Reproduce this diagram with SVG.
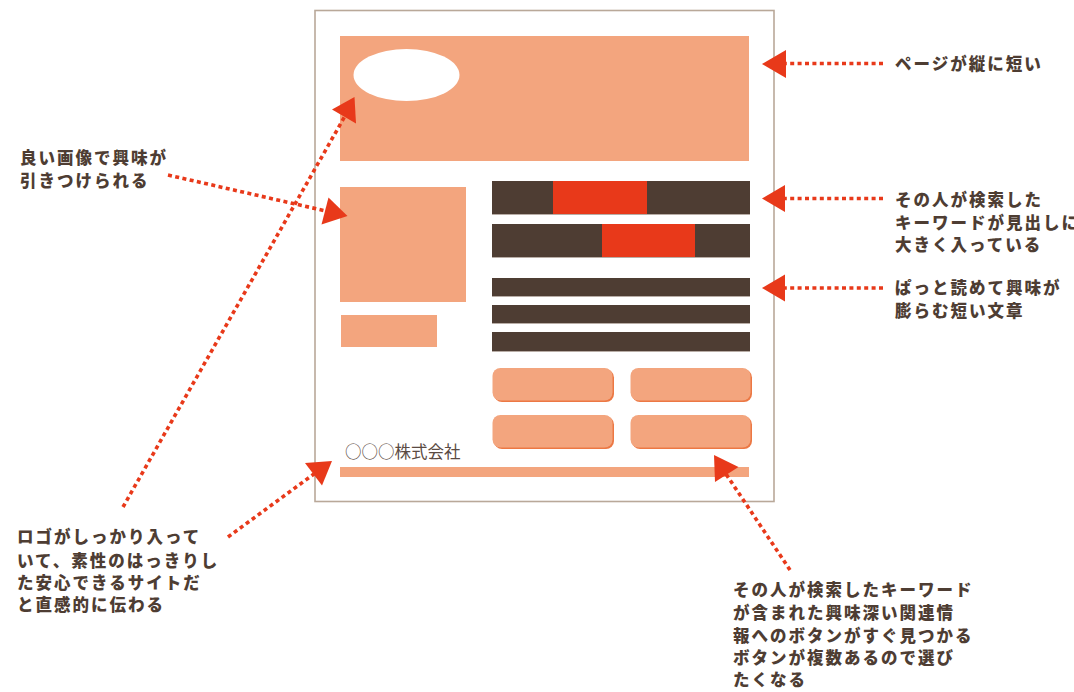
<svg xmlns="http://www.w3.org/2000/svg" width="1074" height="692" viewBox="0 0 1074 692">
<defs>
<style>
.peach{fill:#f3a57e}
.dark{fill:#4e3d33}
.red{fill:#e8391a}
.lbl{font-family:"Noto Sans CJK JP","Noto Sans",sans-serif;font-weight:900;font-size:16.5px;letter-spacing:2px;fill:#4e3d33}
.co{font-family:"Noto Sans CJK JP","Noto Sans",sans-serif;font-weight:400;font-size:16.5px;fill:#5a4a42}
.dot{fill:none;stroke:#e8391a;stroke-width:3.6;stroke-dasharray:4 3.4}
.head{fill:#e8391a}
.btnsh{fill:#ec7844}
.edge{stroke:#b8ada6;stroke-width:1}
</style>
</defs>
<rect width="1074" height="692" fill="#ffffff"/>

<g id="page">
<rect x="315" y="10.5" width="459" height="491" fill="#ffffff" stroke="#b9a899" stroke-width="1.6"/>
</g>

<g id="header">
<rect class="peach" x="340" y="36" width="409" height="125"/>
<ellipse cx="406.5" cy="75" rx="53" ry="26" fill="#ffffff"/>
</g>

<g id="image-block">
<rect class="peach" x="340" y="187" width="126" height="115"/>
<rect class="peach" x="341" y="315" width="96" height="32"/>
</g>

<g id="headlines">
<rect class="dark" x="492" y="181" width="258" height="33"/>
<rect class="red" x="553" y="181" width="94" height="33"/>
<line class="edge" x1="492" y1="214.5" x2="750" y2="214.5"/>
<rect class="dark" x="492" y="224" width="258" height="33"/>
<rect class="red" x="602" y="224" width="93" height="33"/>
<line class="edge" x1="492" y1="257.5" x2="750" y2="257.5"/>
</g>

<g id="text-lines">
<rect class="dark" x="492" y="278" width="258" height="18"/>
<line class="edge" x1="492" y1="296.5" x2="750" y2="296.5"/>
<rect class="dark" x="492" y="305" width="258" height="18"/>
<line class="edge" x1="492" y1="323.5" x2="750" y2="323.5"/>
<rect class="dark" x="492" y="332" width="258" height="19"/>
<line class="edge" x1="492" y1="351.5" x2="750" y2="351.5"/>
</g>

<g id="buttons">
<rect class="btnsh" x="494" y="369.5" width="120" height="32.5" rx="8"/>
<rect class="peach" x="492.5" y="368" width="120" height="32.5" rx="8"/>
<rect class="btnsh" x="632" y="369.5" width="120" height="32.5" rx="8"/>
<rect class="peach" x="630.5" y="368" width="120" height="32.5" rx="8"/>
<rect class="btnsh" x="494" y="416.5" width="120" height="32.5" rx="8"/>
<rect class="peach" x="492.5" y="415" width="120" height="32.5" rx="8"/>
<rect class="btnsh" x="632" y="416.5" width="120" height="32.5" rx="8"/>
<rect class="peach" x="630.5" y="415" width="120" height="32.5" rx="8"/>
</g>

<g id="footer">
<text class="co" x="345" y="457.5">○○○株式会社</text>
<rect class="peach" x="340" y="467" width="409" height="10"/>
</g>

<g id="label-page-short">
<text class="lbl" x="895" y="70">ページが縦に短い</text>
</g>
<g id="label-keyword">
<text class="lbl" x="895" y="206">その人が検索した</text>
<text class="lbl" x="895" y="228.5">キーワードが見出しに</text>
<text class="lbl" x="895" y="251">大きく入っている</text>
</g>
<g id="label-text">
<text class="lbl" x="895" y="294">ぱっと読めて興味が</text>
<text class="lbl" x="895" y="316.5">膨らむ短い文章</text>
</g>
<g id="label-image">
<text class="lbl" x="20" y="164">良い画像で興味が</text>
<text class="lbl" x="20" y="187">引きつけられる</text>
</g>
<g id="label-logo">
<text class="lbl" x="17" y="543">ロゴがしっかり入って</text>
<text class="lbl" x="17" y="567">いて、素性のはっきりし</text>
<text class="lbl" x="17" y="589">た安心できるサイトだ</text>
<text class="lbl" x="17" y="611">と直感的に伝わる</text>
</g>
<g id="label-buttons">
<text class="lbl" x="733" y="596">その人が検索したキーワード</text>
<text class="lbl" x="733" y="619">が含まれた興味深い関連情</text>
<text class="lbl" x="733" y="642">報へのボタンがすぐ見つかる</text>
<text class="lbl" x="733" y="664">ボタンが複数あるので選び</text>
<text class="lbl" x="733" y="686">たくなる</text>
</g>

<g id="connectors">
<line class="dot" x1="883" y1="63.5" x2="784" y2="63.5"/>
<polygon class="head" points="762,64 786,50 786,78"/>
<line class="dot" x1="883" y1="198.5" x2="784" y2="198.5"/>
<polygon class="head" points="762,198.5 785,185 785,212"/>
<line class="dot" x1="883" y1="288" x2="784" y2="288"/>
<polygon class="head" points="762,288 785,274.5 785,301.5"/>
<line class="dot" x1="168" y1="175" x2="326" y2="211"/>
<polygon class="head" points="347.5,216 328.5,197.5 321.5,224.5"/>
<line class="dot" x1="123" y1="507" x2="345" y2="116"/>
<polygon class="head" points="354.5,97 332,109.5 356,123.5"/>
<line class="dot" x1="228" y1="537" x2="314" y2="474"/>
<polygon class="head" points="332,461 305,463 322,485.5"/>
<line class="dot" x1="790" y1="570" x2="726" y2="474"/>
<polygon class="head" points="714,455 738.5,467 715,482"/>
</g>
</svg>
